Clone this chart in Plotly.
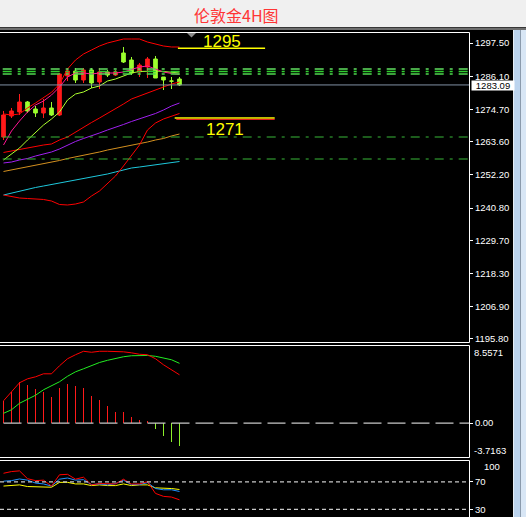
import plotly.graph_objects as go

W, H = 526, 517

# ---------------- data ----------------
bars = list(range(23))
open_ = [1265.20, 1272.42, 1273.79, 1277.23, 1274.82, 1273.45, 1275.17, 1272.76, 1286.16, 1287.88,
         1284.79, 1288.22, 1284.10, 1287.54, 1286.50, 1294.06, 1291.66, 1287.54, 1289.25, 1292.00,
         1285.82, 1284.44, 1285.13]
high = [1274.14, 1275.17, 1279.98, 1277.57, 1275.85, 1278.26, 1277.23, 1287.19, 1288.91, 1288.91,
        1288.91, 1288.91, 1288.91, 1288.22, 1288.22, 1296.13, 1292.69, 1290.63, 1292.69, 1293.03,
        1285.82, 1285.82, 1285.82]
low = [1264.17, 1271.73, 1272.76, 1273.45, 1272.07, 1271.73, 1272.42, 1272.42, 1284.44, 1283.76,
       1283.76, 1282.04, 1281.69, 1285.82, 1286.16, 1290.63, 1286.50, 1285.82, 1285.47, 1285.47,
       1281.35, 1281.69, 1282.72]
close = [1272.76, 1274.14, 1277.23, 1274.14, 1273.45, 1275.17, 1272.76, 1286.85, 1287.88, 1284.79,
         1288.22, 1283.76, 1287.54, 1286.50, 1287.54, 1290.97, 1287.19, 1289.94, 1292.00, 1285.47,
         1284.79, 1284.40, 1283.09]

bb_upper = [1273.11, 1272.76, 1273.11, 1275.17, 1276.88, 1278.71, 1280.56, 1283.41, 1288.57, 1291.66,
            1293.72, 1295.09, 1296.47, 1297.50, 1298.19, 1298.87, 1298.87, 1298.87, 1297.84, 1297.16,
            1296.47, 1296.13, 1296.13]
bb_mid = [1259.88, 1260.39, 1260.91, 1261.42, 1262.11, 1262.45, 1262.80, 1264.17, 1265.20, 1266.92,
          1268.64, 1270.18, 1271.73, 1273.28, 1274.82, 1276.54, 1278.26, 1279.29, 1280.32, 1281.35,
          1282.38, 1283.41, 1284.10]
bb_lower = [1245.27, 1244.76, 1244.24, 1244.07, 1243.90, 1243.73, 1243.21, 1242.01, 1241.84, 1242.18,
            1242.87, 1244.93, 1246.65, 1249.40, 1251.80, 1255.24, 1258.67, 1262.45, 1267.61, 1270.01,
            1271.39, 1272.42, 1273.28]
ma_pink = [1262.45, 1267.26, 1270.70, 1273.79, 1276.20, 1277.57, 1279.63, 1282.38, 1285.82, 1287.19,
           1287.19, 1286.85, 1287.19, 1287.19, 1287.19, 1287.54, 1288.39, 1289.25, 1289.60, 1288.57,
           1287.54, 1287.02, 1286.68]
ma_lime = [1257.30, 1259.36, 1261.42, 1264.17, 1266.92, 1269.32, 1271.39, 1273.79, 1277.91, 1279.98,
           1280.66, 1282.04, 1282.72, 1284.44, 1285.13, 1286.16, 1287.19, 1287.71, 1287.88, 1287.88,
           1287.71, 1287.54, 1287.19]
ma_purple = [1256.27, 1256.61, 1257.30, 1257.81, 1258.67, 1259.36, 1260.05, 1261.08, 1262.45, 1263.66,
             1264.69, 1265.55, 1266.58, 1267.61, 1268.47, 1269.50, 1270.53, 1271.39, 1272.42, 1273.28,
             1274.48, 1275.85, 1276.88]
ma_orange = [1253.35, 1253.86, 1254.38, 1254.89, 1255.41, 1255.92, 1256.61, 1257.13, 1257.81, 1258.33,
             1259.02, 1259.53, 1260.05, 1260.73, 1261.25, 1261.94, 1262.45, 1262.97, 1263.48, 1264.17,
             1264.69, 1265.55, 1266.23]
ma_cyan = [1245.27, 1245.96, 1246.65, 1247.33, 1247.85, 1248.36, 1248.88, 1249.40, 1249.91, 1250.26,
           1250.77, 1251.29, 1251.80, 1252.49, 1253.18, 1253.86, 1254.55, 1254.89, 1255.24, 1255.58,
           1256.10, 1256.44, 1256.78]

macd_hist = [2.37, 3.46, 4.45, 4.20, 3.76, 3.46, 2.81, 3.90, 4.31, 4.01, 3.90, 2.92, 2.55, 1.90,
             1.24, 1.24, 0.69, 0.36, 0.22, -0.62, -1.39, -2.05, -2.56]
macd_red = [2.44, 3.43, 4.42, 4.85, 5.07, 5.40, 5.40, 6.28, 7.05, 7.49, 7.87, 7.76, 7.87, 7.87,
            7.87, 7.81, 7.70, 7.54, 7.49, 7.05, 6.39, 5.84, 5.29]
macd_green = [1.07, 1.46, 2.17, 2.61, 3.05, 3.65, 4.09, 4.53, 5.13, 5.62, 5.95, 6.33, 6.64, 6.88,
              7.10, 7.27, 7.38, 7.38, 7.41, 7.32, 7.16, 6.94, 6.55]

rsi_red = [82.6, 85.1, 86.1, 74.7, 71.9, 72.6, 64.0, 80.4, 81.1, 74.0, 76.9, 65.7, 67.6, 67.1,
           67.1, 74.0, 66.9, 67.1, 70.4, 53.3, 49.0, 48.0, 44.0]
rsi_blue = [71.1, 71.9, 74.3, 72.6, 68.3, 67.1, 64.0, 74.0, 75.7, 72.6, 73.3, 66.1, 67.1, 65.7,
            67.6, 72.6, 66.1, 66.1, 69.0, 60.4, 58.6, 58.6, 56.1]
rsi_yellow = [64.0, 64.7, 65.7, 63.3, 63.3, 63.3, 62.3, 69.4, 69.4, 67.1, 67.1, 64.7, 65.7, 64.7,
              64.7, 67.1, 64.7, 65.7, 65.7, 61.4, 61.4, 60.4, 59.0]

price_ticks = [1297.50, 1286.10, 1274.70, 1263.60, 1252.20, 1240.80, 1229.70, 1218.30, 1206.90, 1195.80]
price_range = [1194.76, 1301.28]
macd_range = [-3.7163, 8.5571]
rsi_range = [19.0, 101.9]
rsi_levels = [70, 30]
last_price = 1283.09

key_levels = [1295.7, 1271.7]
key_labels = ["1295", "1271"]
key_from = [21.8, 21.4]
key_to = [32.7, 33.9]
key_text_x = [27.3, 27.7]
key_text_shift = [7, -11]
green_triple = [1288.57, 1287.70, 1286.85]
green_triple_colors = ["#5fe05f", "#2fcf2f", "#4fd84f"]
green_single = [1265.20, 1257.64]

title_text = "伦敦金4H图"

# ---------------- layout helpers ----------------
def px(xp):
    return xp / W

def py(yp):
    return 1 - yp / H

X_RANGE = [-0.4375, 58.19]
PLOT_R = 469
UP, DOWN = "#ff1a1a", "#9cff2e"
FONT = "Liberation Sans, Arial, sans-serif"

fig = go.Figure()

# candles
fig.add_trace(go.Candlestick(
    x=bars, open=open_, high=high, low=low, close=close,
    increasing=dict(line=dict(color=UP, width=1), fillcolor=UP),
    decreasing=dict(line=dict(color=DOWN, width=1), fillcolor=DOWN),
    whiskerwidth=0, hoverinfo="skip", showlegend=False, xaxis="x", yaxis="y"))

def line(y, color, yaxis="y", width=1):
    fig.add_trace(go.Scatter(x=bars, y=y, mode="lines", line=dict(color=color, width=width),
                             hoverinfo="skip", showlegend=False, xaxis="x", yaxis=yaxis))

line(ma_cyan, "#1ec8dc")
line(ma_orange, "#d4901f")
line(ma_purple, "#a020f0")
line(bb_lower, "#ff0000")
line(bb_mid, "#ff0000")
line(bb_upper, "#ff0000")
line(ma_lime, "#adff2f")
line(ma_pink, "#ff1493")

# MACD
fig.add_trace(go.Bar(x=bars, y=macd_hist, width=0.11,
                     marker=dict(color=[UP if v >= 0 else "#8cf02a" for v in macd_hist], line=dict(width=0)),
                     hoverinfo="skip", showlegend=False, xaxis="x", yaxis="y2"))
line(macd_green, "#22ee22", "y2")
line(macd_red, "#ff0000", "y2")

# RSI
line(rsi_yellow, "#ffff00", "y3")
line(rsi_blue, "#1e90ff", "y3")
line(rsi_red, "#ff0000", "y3")

shapes = []
# title bar and scrollbar
shapes.append(dict(type="rect", xref="paper", yref="paper", x0=0, x1=1, y0=py(27), y1=1,
                   fillcolor="#f0f0f0", line=dict(width=0), layer="above"))
shapes.append(dict(type="rect", xref="paper", yref="paper", x0=0, x1=1, y0=py(30), y1=py(27.5),
                   fillcolor="#6e6e6e", line=dict(width=0), layer="above"))
shapes.append(dict(type="rect", xref="paper", yref="paper", x0=px(513), x1=px(514), y0=0, y1=py(30),
                   fillcolor="#e6eef6", line=dict(width=0)))
shapes.append(dict(type="rect", xref="paper", yref="paper", x0=px(514), x1=px(520), y0=0, y1=py(30),
                   fillcolor="#bcd4ee", line=dict(width=0)))
shapes.append(dict(type="rect", xref="paper", yref="paper", x0=px(520), x1=px(521), y0=0, y1=py(30),
                   fillcolor="#8a9aac", line=dict(width=0)))
shapes.append(dict(type="rect", xref="paper", yref="paper", x0=px(521), x1=1, y0=0, y1=py(30),
                   fillcolor="#d8e6f5", line=dict(width=0)))

# panel borders (top, bottom, right)
for top, bot in [(32, 342), (345, 457), (460, 518)]:
    for yy in (top, bot):
        shapes.append(dict(type="line", xref="paper", yref="paper", x0=0, x1=px(PLOT_R + 0.5),
                           y0=py(yy + 0.5), y1=py(yy + 0.5), line=dict(color="#ffffff", width=1)))
    shapes.append(dict(type="line", xref="paper", yref="paper", x0=px(PLOT_R + 0.5), x1=px(PLOT_R + 0.5),
                       y0=py(top + 0.5), y1=py(min(bot, 517) + 0.5), line=dict(color="#ffffff", width=1)))

# horizontal green levels
for lv, col in zip(green_triple, green_triple_colors):
    shapes.append(dict(type="line", xref="paper", yref="y", x0=px(2.7), x1=px(PLOT_R), y0=lv, y1=lv,
                       line=dict(color=col, width=1.6, dash="9px,6px,3px,6px")))
for lv in green_single:
    shapes.append(dict(type="line", xref="paper", yref="y", x0=px(2.7), x1=px(PLOT_R), y0=lv, y1=lv,
                       line=dict(color="#38b838", width=1, dash="9px,6px,3px,6px")))

# last price line
shapes.append(dict(type="line", xref="paper", yref="y", x0=0, x1=px(PLOT_R), y0=last_price, y1=last_price,
                   line=dict(color="#8090a4", width=1)))

# key yellow levels
for lv, a, b in zip(key_levels, key_from, key_to):
    shapes.append(dict(type="line", xref="x", yref="y", x0=a, x1=b, y0=lv, y1=lv,
                       line=dict(color="#ffff00", width=1.5)))
shapes.append(dict(type="line", xref="x", yref="y", x0=key_from[1] + 0.2, x1=key_to[1], y0=key_levels[1] - 0.45,
                   y1=key_levels[1] - 0.45, line=dict(color="#ff2020", width=1)))

# chart-shift triangle
shapes.append(dict(type="path", xref="paper", yref="paper",
                   path=f"M {px(187)},{py(33)} L {px(196)},{py(33)} L {px(191.5)},{py(37.5)} Z",
                   fillcolor="#8a8a8a", line=dict(width=0)))

# MACD zero dashed line
shapes.append(dict(type="line", xref="x", yref="y2", x0=bars[0], x1=X_RANGE[1], y0=0, y1=0,
                   line=dict(color="#c8c8c8", width=1.2, dash="18px,6px")))
# RSI dashed levels
for lv in rsi_levels:
    shapes.append(dict(type="line", xref="paper", yref="y3", x0=0, x1=px(PLOT_R), y0=lv, y1=lv,
                       line=dict(color="#c8c8c8", width=1.2, dash="4px,3px")))

annotations = [
    dict(text=title_text, xref="paper", yref="paper", x=px(236.5), y=py(15), xanchor="center", yanchor="middle",
         showarrow=False, font=dict(family="Noto Sans CJK SC", size=16, color="#ff3535")),
    dict(text=f"{last_price:.2f}", xref="paper", yref="y", x=px(471), y=last_price, xanchor="left",
         yanchor="middle", yshift=-1, showarrow=False, bgcolor="#ffffff", width=40, height=7, borderpad=1,
         font=dict(family=FONT, size=9.5, color="#000000")),
    dict(text=f"{macd_range[1]:.4f}", xref="paper", yref="paper", x=px(472), y=py(352), xanchor="left",
         yanchor="middle", showarrow=False, font=dict(family=FONT, size=9.5, color="#ffffff")),
    dict(text=f"{macd_range[0]:.4f}", xref="paper", yref="paper", x=px(472), y=py(450), xanchor="left",
         yanchor="middle", showarrow=False, font=dict(family=FONT, size=9.5, color="#ffffff")),
    dict(text="100", xref="paper", yref="paper", x=px(482), y=py(466.7), xanchor="left",
         yanchor="middle", showarrow=False, font=dict(family=FONT, size=9.5, color="#ffffff")),
]
for lv, lab, tx, sh in zip(key_levels, key_labels, key_text_x, key_text_shift):
    annotations.append(dict(text=lab, xref="x", yref="y", x=tx, y=lv, yshift=sh, xanchor="center",
                            yanchor="middle", showarrow=False,
                            font=dict(family=FONT, size=17, color="#ffff00")))

yax_common = dict(side="right", anchor="x", showgrid=False, zeroline=False, showline=False, ticks="outside",
                  ticklen=3, tickwidth=1, tickcolor="#ffffff", fixedrange=True, automargin=False,
                  tickfont=dict(family=FONT, size=9.5, color="#ffffff"))

fig.update_layout(
    width=W, height=H, margin=dict(l=0, r=0, t=0, b=0, pad=0), autosize=False,
    paper_bgcolor="#000000", plot_bgcolor="#000000",
    showlegend=False, boxgap=0.35, bargap=0,
    xaxis=dict(domain=[0, px(PLOT_R)], range=X_RANGE, visible=False, fixedrange=True, automargin=False,
               rangeslider=dict(visible=False)),
    yaxis=dict(domain=[py(342), py(32)], range=price_range, tickvals=price_ticks,
               ticktext=[f"{v:.2f}" for v in price_ticks], **yax_common),
    yaxis2=dict(domain=[py(457), py(345)], range=macd_range, tickvals=[0], ticktext=["0.00"], **yax_common),
    yaxis3=dict(domain=[0, py(460)], range=rsi_range, tickvals=rsi_levels,
                ticktext=[str(v) for v in rsi_levels], **yax_common),
    shapes=shapes, annotations=annotations,
)

fig.write_html("out.html", config=dict(displayModeBar=False),
               post_script="document.body.style.margin='0';document.body.style.background='#000';")
